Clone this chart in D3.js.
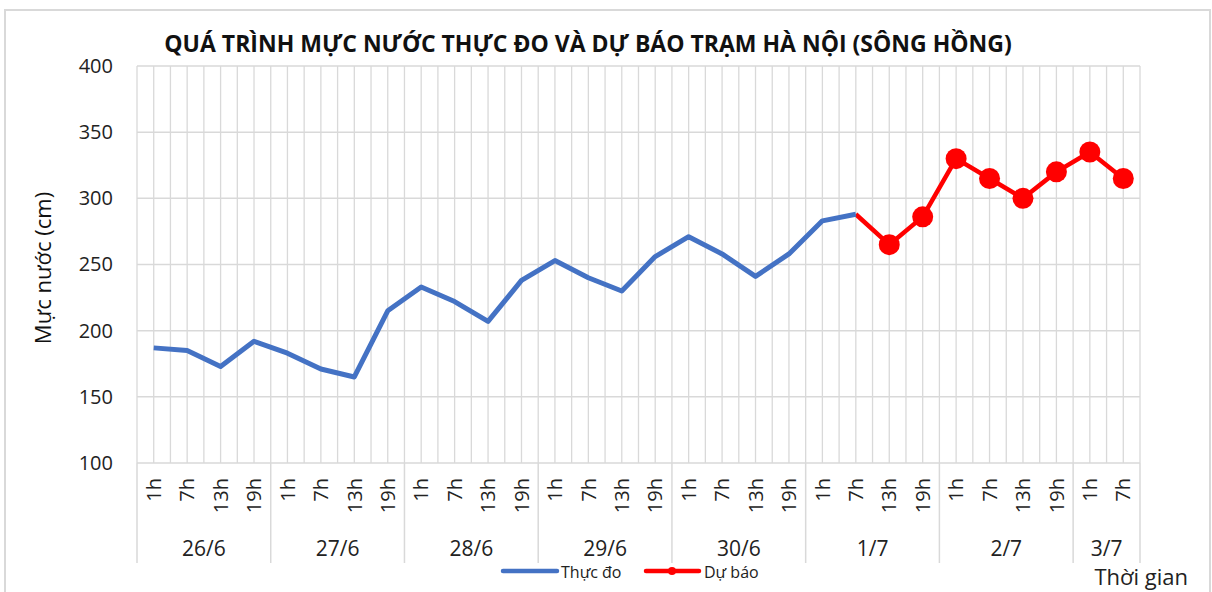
<!DOCTYPE html>
<html><head><meta charset="utf-8">
<script src="https://cdn.jsdelivr.net/npm/d3@7"></script>
<style>html,body{margin:0;padding:0;background:#fff;}svg{display:block;font-family:"Open Sans",sans-serif;}</style>
</head><body>
<svg id="c" width="1212" height="592"></svg>
<script>
const title = "QUÁ TRÌNH MỰC NƯỚC THỰC ĐO VÀ DỰ BÁO TRẠM HÀ NỘI (SÔNG HỒNG)";
const yTitle = "Mực nước (cm)";
const xTitle = "Thời gian";
const hourLabels = ["1h","7h","13h","19h","1h","7h","13h","19h","1h","7h","13h","19h","1h","7h","13h","19h","1h","7h","13h","19h","1h","7h","13h","19h","1h","7h","13h","19h","1h","7h"];
const dayLabels = ["26/6","27/6","28/6","29/6","30/6","1/7","2/7","3/7"];
const dayCounts = [4,4,4,4,4,4,4,2];
const yTicks = [100,150,200,250,300,350,400];
const observed = [187,185,173,192,183,171,165,215,233,222,207,238,253,240,230,256,271,258,241,258,283,288];
const observedStart = 0;
const forecast = [288,265,286,330,315,300,320,335,315];
const forecastStart = 21;
const seriesNames = ["Thực đo","Dự báo"];

const svg = d3.select("#c");
const L = 137, R = 1140, T = 66, B = 463;
const grid = "#d9d9d9";

// outer border
svg.append("rect").attr("x",5).attr("y",10).attr("width",1205).attr("height",600)
  .attr("fill","none").attr("stroke",grid).attr("stroke-width",2);

const x = d3.scaleBand().domain(d3.range(hourLabels.length)).range([L,R]).padding(0);
const y = d3.scaleLinear().domain([100,400]).range([B,T]);
const bw = x.bandwidth();

// vertical gridlines at band edges and centers
const vg = [];
hourLabels.forEach((d,i)=>{ vg.push(x(i)); vg.push(x(i)+bw/2); });
vg.push(R);
svg.append("g").selectAll("line").data(vg).join("line")
  .attr("x1",d=>d).attr("x2",d=>d).attr("y1",T).attr("y2",B)
  .attr("stroke",grid).attr("stroke-width",1.3);

// horizontal gridlines
svg.append("g").selectAll("line").data(yTicks).join("line")
  .attr("x1",L).attr("x2",R).attr("y1",d=>y(d)).attr("y2",d=>y(d))
  .attr("stroke",grid).attr("stroke-width",1.5);

// y axis labels
const yAxis = d3.axisLeft(y).tickValues(yTicks).tickSize(0).tickPadding(0);
const ya = svg.append("g").attr("transform",`translate(${L-24},0)`).call(yAxis);
ya.select(".domain").remove();
ya.selectAll("text").attr("font-size",20).attr("fill","#222").attr("font-family","Open Sans");

// y title
svg.append("text").attr("transform","translate(51,268) rotate(-90)")
  .attr("text-anchor","middle").attr("font-size",22).attr("fill","#111").text(yTitle);

// category axis: hour labels
svg.append("g").selectAll("text").data(hourLabels).join("text")
  .attr("transform",(d,i)=>`translate(${x(i)+bw/2},478) rotate(-90)`)
  .attr("text-anchor","end").attr("dy","0.36em")
  .attr("font-size",20).attr("fill","#222").text(d=>d);

// group separators
const bounds = [0];
dayCounts.forEach(c=>bounds.push(bounds[bounds.length-1]+c));
const bx = i => i < hourLabels.length ? x(i) : R;
svg.append("g").selectAll("line").data(bounds).join("line")
  .attr("x1",d=>bx(d)).attr("x2",d=>bx(d)).attr("y1",B).attr("y2",563)
  .attr("stroke",grid).attr("stroke-width",1.5);

// day labels
svg.append("g").selectAll("text").data(dayLabels).join("text")
  .attr("x",(d,i)=>(bx(bounds[i])+bx(bounds[i+1]))/2).attr("y",556)
  .attr("text-anchor","middle").attr("font-size",21).attr("fill","#222").text(d=>d);

// lines
const line = d3.line().x(d=>x(d.i)+bw/2).y(d=>y(d.v));
const obsData = observed.map((v,k)=>({i:observedStart+k,v}));
const fcData = forecast.map((v,k)=>({i:forecastStart+k,v}));
svg.append("path").datum(fcData).attr("d",line).attr("fill","none")
  .attr("stroke","#ff0000").attr("stroke-width",4.5).attr("stroke-linejoin","round");
svg.append("path").datum(obsData).attr("d",line).attr("fill","none")
  .attr("stroke","#4472c4").attr("stroke-width",5).attr("stroke-linejoin","round");
svg.append("g").selectAll("circle").data(fcData.slice(1)).join("circle")
  .attr("cx",d=>x(d.i)+bw/2).attr("cy",d=>y(d.v)).attr("r",10.5).attr("fill","#ff0000");

// title
svg.append("text").attr("x",588).attr("y",52).attr("text-anchor","middle")
  .attr("font-size",23).attr("font-weight","bold").attr("fill","#111").text(title);

// legend
const lg = svg.append("g");
lg.append("line").attr("x1",503).attr("x2",557).attr("y1",571).attr("y2",571)
  .attr("stroke","#4472c4").attr("stroke-width",4.5).attr("stroke-linecap","round");
lg.append("text").attr("x",561).attr("y",578).attr("font-size",16).attr("fill","#222").text(seriesNames[0]);
lg.append("line").attr("x1",646).attr("x2",699).attr("y1",571).attr("y2",571)
  .attr("stroke","#ff0000").attr("stroke-width",4.5).attr("stroke-linecap","round");
lg.append("circle").attr("cx",672).attr("cy",571).attr("r",4).attr("fill","#ff0000");
lg.append("text").attr("x",704).attr("y",578).attr("font-size",16).attr("fill","#222").text(seriesNames[1]);

// x title
svg.append("text").attr("x",1188).attr("y",585).attr("text-anchor","end")
  .attr("font-size",22).attr("fill","#222").text(xTitle);
</script>
</body></html>
